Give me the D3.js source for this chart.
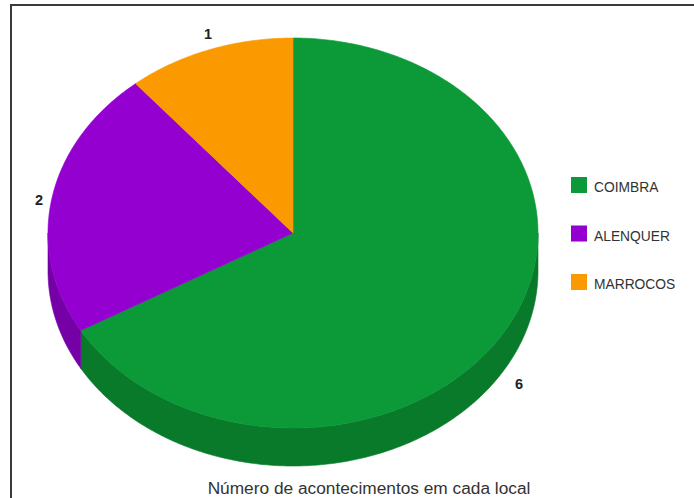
<!DOCTYPE html>
<html>
<head>
<meta charset="utf-8">
<script src="https://cdn.jsdelivr.net/npm/d3@7"></script>
<style>
  html, body { margin: 0; padding: 0; background: #fff; }
  svg { display: block; }
  text { font-family: "Liberation Sans", Arial, sans-serif; }
</style>
</head>
<body>
<svg id="chart" width="694" height="498"></svg>
<script>
// Events per place
const categories = ["COIMBRA", "ALENQUER", "MARROCOS"];
const values = [6, 2, 1];
const topColors = ["#0b9a37", "#9300cf", "#fb9900"];
const sideColors = ["#087a2a", "#7400a6", "#c97800"];
const chartTitle = "Número de acontecimentos em cada local";

const svg = d3.select("#chart");
const W = 694, H = 498;

// frame around the chart area
svg.append("rect")
  .attr("x", 11).attr("y", 5)
  .attr("width", W + 20).attr("height", H + 20)
  .attr("fill", "none").attr("stroke", "#3a3a3a").attr("stroke-width", 2);

// Tilted pie geometry
const cx = 293, cy = 233, rx = 245, ry = 195, depth = 38;

const pie = d3.pie().sort(null).value(d => d)
  .startAngle(0).endAngle(2 * Math.PI);
const arcs = pie(values);

const px = a => cx + rx * Math.sin(a);
const py = a => cy - ry * Math.cos(a);

function samples(a0, a1) {
  const n = Math.max(2, Math.ceil(Math.abs(a1 - a0) / 0.01));
  return d3.range(n + 1).map(i => a0 + (a1 - a0) * i / n);
}

// side walls: only the front half (angles between PI/2 and 3PI/2) is visible
const sideG = svg.append("g");
arcs.forEach((d, i) => {
  const a0 = Math.max(d.startAngle, Math.PI / 2);
  const a1 = Math.min(d.endAngle, 3 * Math.PI / 2);
  if (a1 <= a0) return;
  const p = d3.path();
  const topPts = samples(a0, a1);
  p.moveTo(px(a0), py(a0));
  topPts.forEach(a => p.lineTo(px(a), py(a)));
  topPts.slice().reverse().forEach(a => p.lineTo(px(a), py(a) + depth));
  p.closePath();
  sideG.append("path")
    .attr("d", p.toString())
    .attr("fill", sideColors[i])
    .attr("stroke", sideColors[i]).attr("stroke-width", 0.6);
});

// top faces
const topG = svg.append("g");
arcs.forEach((d, i) => {
  const p = d3.path();
  p.moveTo(cx, cy);
  samples(d.startAngle, d.endAngle).forEach(a => p.lineTo(px(a), py(a)));
  p.closePath();
  topG.append("path")
    .attr("d", p.toString())
    .attr("fill", topColors[i])
    .attr("stroke", topColors[i]).attr("stroke-width", 0.6);
});

// value labels outside each slice
const labelPos = [
  { x: 519, y: 389 },
  { x: 39, y: 205 },
  { x: 208, y: 39 }
];
arcs.forEach((d, i) => {
  svg.append("text")
    .attr("x", labelPos[i].x).attr("y", labelPos[i].y)
    .attr("text-anchor", "middle")
    .attr("font-size", 14.5).attr("font-weight", "bold")
    .attr("fill", "#222")
    .text(d.data);
});

// legend
const legendY = d3.scalePoint().domain(categories).range([177, 274]);
const lg = svg.append("g");
categories.forEach((c, i) => {
  lg.append("rect")
    .attr("x", 571).attr("y", legendY(c))
    .attr("width", 16).attr("height", 16)
    .attr("fill", topColors[i]);
  lg.append("text")
    .attr("x", 594).attr("y", legendY(c) + 15)
    .attr("font-size", 13.8).attr("fill", "#333")
    .text(c);
});

// caption below the pie
svg.append("text")
  .attr("x", 369).attr("y", 494)
  .attr("text-anchor", "middle")
  .attr("font-size", 17.3).attr("fill", "#333")
  .text(chartTitle);
</script>
</body>
</html>
